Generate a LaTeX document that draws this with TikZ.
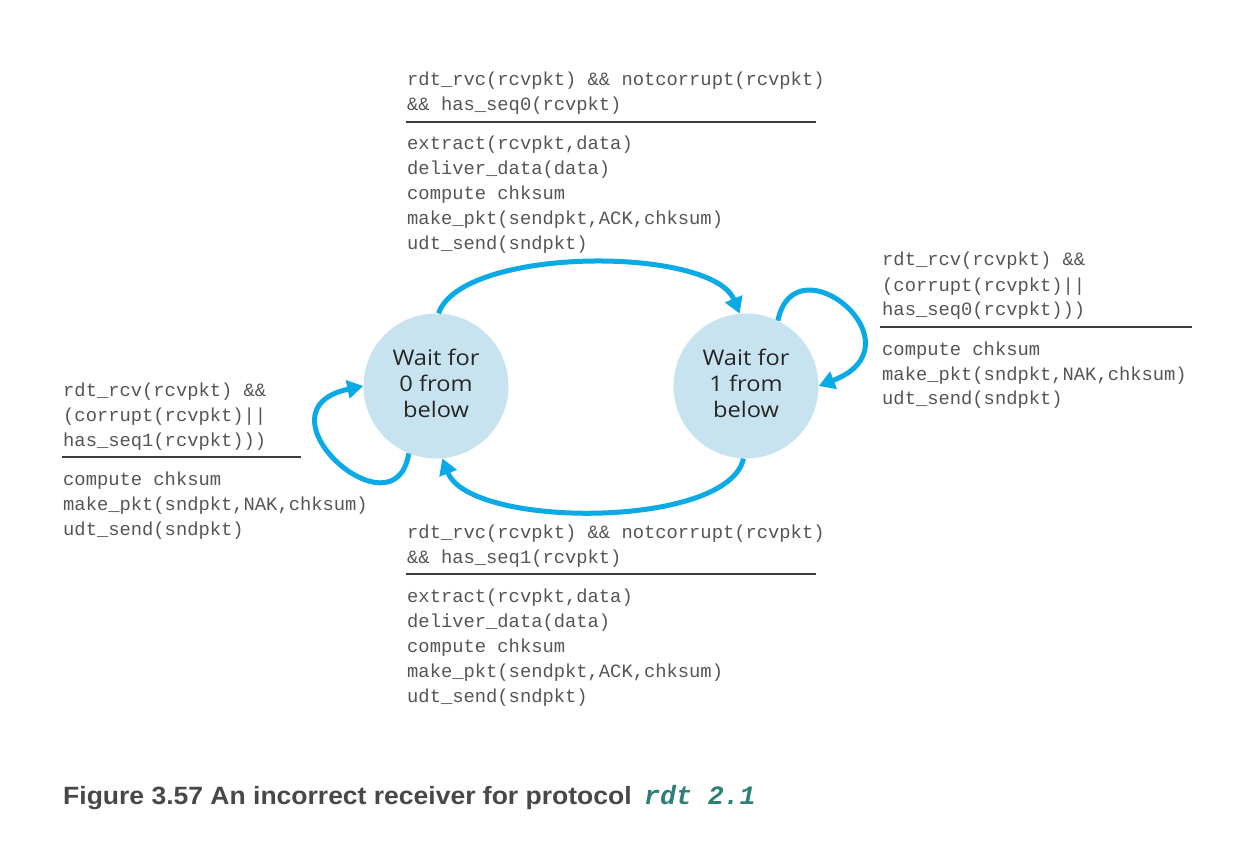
\documentclass[tikz,border=0pt]{standalone}
\usepackage{fontspec}
\setmainfont{Liberation Serif}
\newfontfamily\codefont{Liberation Mono}
\newfontfamily\statefont{Open Sans}[FakeStretch=1.1]
\newfontfamily\capfont{Liberation Sans}[FakeStretch=1.06]
\usetikzlibrary{arrows.meta}
\definecolor{arrowblue}{RGB}{10,170,230}
\definecolor{statefill}{RGB}{200,227,240}
\definecolor{codegray}{RGB}{85,85,85}
\definecolor{rulegray}{RGB}{60,60,60}
\definecolor{capgray}{RGB}{72,72,72}
\definecolor{capteal}{RGB}{45,128,118}
\newcommand{\codeblock}[1]{\begin{tabular}[t]{@{}l@{}}#1\end{tabular}}
\newcommand{\stateblock}[1]{\begin{tabular}{@{}c@{}}#1\end{tabular}}
\tikzset{
  statenode/.style={circle, fill=statefill, minimum size=145pt, inner sep=0pt,
    text=black!85, font=\statefont\fontsize{21.5}{26}\selectfont},
  codetext/.style={anchor=base west, inner sep=0pt, text=codegray,
    font=\codefont\fontsize{18.8}{25}\selectfont},
  guardrule/.style={draw=rulegray, line width=1.4pt},
  trans/.style={draw=arrowblue, line width=5pt, -{Triangle[length=16pt,width=18pt]}}
}
\begin{document}
\begin{tikzpicture}[x=1pt,y=-1pt]
\useasboundingbox[fill=white] (0,0) rectangle (1235,845);

\node[statenode] (L) at (436,386) {\stateblock{Wait for\\0 from\\below}};
\node[statenode] (R) at (746,386) {\stateblock{Wait for\\1 from\\below}};

% top block
\node[codetext] (t1) at (407,86) {\codeblock{rdt\_rvc(rcvpkt) \&\& notcorrupt(rcvpkt)\\\&\& has\_seq0(rcvpkt)}};
\coordinate (t1a) at (406,122); \coordinate (t1b) at (816,122);
\draw[guardrule] (t1a) -- (t1b);
\node[codetext] (t2) at (407,150) {\codeblock{extract(rcvpkt,data)\\deliver\_data(data)\\compute chksum\\make\_pkt(sendpkt,ACK,chksum)\\udt\_send(sndpkt)}};

% right block
\node[codetext] (r1) at (882,266) {\codeblock{rdt\_rcv(rcvpkt) \&\&\\(corrupt(rcvpkt)||\\has\_seq0(rcvpkt)))}};
\coordinate (r1a) at (880,327); \coordinate (r1b) at (1192,327);
\draw[guardrule] (r1a) -- (r1b);
\node[codetext] (r2) at (882,355) {\codeblock{compute chksum\\make\_pkt(sndpkt,NAK,chksum)\\udt\_send(sndpkt)}};

% left block
\node[codetext] (l1) at (63,396) {\codeblock{rdt\_rcv(rcvpkt) \&\&\\(corrupt(rcvpkt)||\\has\_seq1(rcvpkt)))}};
\coordinate (l1a) at (62,457); \coordinate (l1b) at (301,457);
\draw[guardrule] (l1a) -- (l1b);
\node[codetext] (l2) at (63,485) {\codeblock{compute chksum\\make\_pkt(sndpkt,NAK,chksum)\\udt\_send(sndpkt)}};

% bottom block
\node[codetext] (b1) at (407,538) {\codeblock{rdt\_rvc(rcvpkt) \&\& notcorrupt(rcvpkt)\\\&\& has\_seq1(rcvpkt)}};
\coordinate (b1a) at (406,574); \coordinate (b1b) at (816,574);
\draw[guardrule] (b1a) -- (b1b);
\node[codetext] (b2) at (407,602) {\codeblock{extract(rcvpkt,data)\\deliver\_data(data)\\compute chksum\\make\_pkt(sendpkt,ACK,chksum)\\udt\_send(sndpkt)}};

% transitions
\draw[trans] (L.88) .. controls (462,246) and (712,246) .. (R.95);
\draw[trans] (R.-92) .. controls (728,529) and (470,529) .. (L.-85);
\draw[trans] (L.-112) .. controls (395,540) and (250,410) .. (L.180);
\draw[trans] (R.64) .. controls (795,238) and (925,345) .. (R.0);

% caption
\node[anchor=base west, inner sep=0pt, text=capgray, font=\capfont\bfseries\fontsize{25}{28}\selectfont] (cap) at (63,804) {Figure 3.57 An incorrect receiver for protocol};
\node[anchor=base west, inner sep=0pt, text=capteal, font=\codefont\bfseries\itshape\fontsize{26.5}{28}\selectfont] (capcode) at (644,804) {rdt 2.1};
\end{tikzpicture}
\end{document}
